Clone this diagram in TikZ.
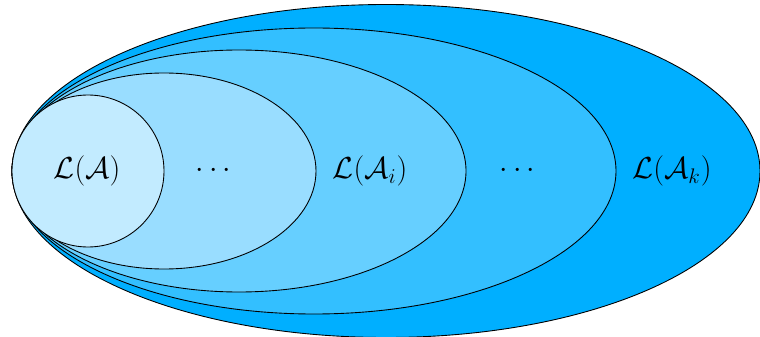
\documentclass[tikz,border=0pt]{standalone}
\usepackage{amsmath,amssymb}
\usepackage{tikz}
\usetikzlibrary{positioning}
\definecolor{langA}{RGB}{194,235,255}
\definecolor{langB}{RGB}{153,221,255}
\definecolor{langC}{RGB}{102,207,255}
\definecolor{langD}{RGB}{51,191,255}
\definecolor{langE}{RGB}{0,175,255}

\begin{document}
\begin{tikzpicture}[
    lang/.style={draw=black, line width=0.5pt},
    lbl/.style={font=\LARGE}
]
    \useasboundingbox (0,0) rectangle (15.2,6.72);
    \begin{scope}
    \clip (0,0) rectangle (15.2,6.72);
    \filldraw[lang, fill=langE] (7.72,3.3) ellipse (7.48 and 3.33);
    \filldraw[lang, fill=langD] (6.28,3.3) ellipse (6.04 and 2.86);
    \filldraw[lang, fill=langC] (4.78,3.3) ellipse (4.54 and 2.42);
    \filldraw[lang, fill=langB] (3.28,3.3) ellipse (3.04 and 1.96);
    \filldraw[lang, fill=langA] (1.76,3.3) ellipse (1.52 and 1.52);
    \end{scope}

    \node[lbl] (la) at (1.74,3.3) {$\mathcal{L}(\mathcal{A})$};
    \node[lbl] (d1) at (4.32,3.3) {$\cdots$};
    \node[lbl] (li) at (7.40,3.3) {$\mathcal{L}(\mathcal{A}_i)$};
    \node[lbl] (d2) at (10.40,3.3) {$\cdots$};
    \node[lbl] (lk) at (13.44,3.3) {$\mathcal{L}(\mathcal{A}_k)$};
\end{tikzpicture}
\end{document}
